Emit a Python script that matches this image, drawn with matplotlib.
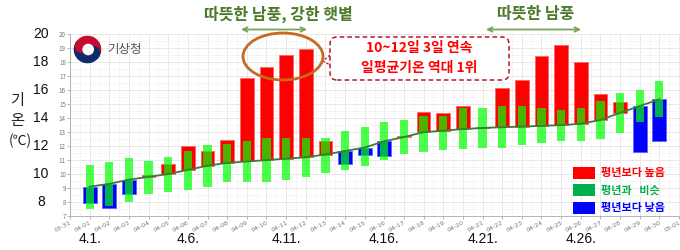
import matplotlib
matplotlib.use("Agg")
import matplotlib.pyplot as plt
import matplotlib.transforms as mtransforms
from matplotlib.patches import Ellipse, FancyBboxPatch, Rectangle, Wedge, Circle
from matplotlib.lines import Line2D
import numpy as np

plt.rcParams['font.family'] = ['Noto Sans CJK KR', 'DejaVu Sans']

# ---------------- data ----------------
days = list(range(1, 31))                      # April 1..30
tick_labels = ["03-31"] + ["04-%02d" % d for d in range(1, 31)] + ["05-01"]
observed = [7.9, 7.6, 8.6, 9.9, 10.7, 12.0, 11.65, 12.45, 16.85, 17.65,
            18.5, 18.95, 12.35, 10.7, 11.4, 11.3, 12.7, 14.45, 14.35, 14.85,
            13.4, 16.15, 16.75, 18.45, 19.25, 18.05, 15.75, 15.15, 11.55, 12.4]
normal_mean = [9.1, 9.3, 9.6, 9.8, 10.0, 10.3, 10.6, 10.8, 10.9, 11.0,
               11.1, 11.2, 11.4, 11.65, 11.9, 12.35, 12.65, 13.0, 13.1, 13.22,
               13.3, 13.35, 13.4, 13.45, 13.5, 13.6, 13.87, 14.38, 14.87, 15.35]
normal_lo = [7.5, 7.7, 8.0, 8.6, 8.7, 8.85, 9.1, 9.4, 9.45, 9.4,
             9.6, 9.8, 10.1, 10.3, 10.6, 11.0, 11.45, 11.6, 11.75, 11.8,
             11.85, 11.9, 12.05, 12.2, 12.4, 12.4, 12.5, 12.95, 13.7, 14.05]
normal_hi = [10.65, 10.85, 11.15, 10.95, 11.25, 11.65, 12.05, 12.15, 12.35, 12.55,
             12.55, 12.55, 12.6, 13.05, 13.35, 13.75, 13.85, 14.15, 14.15, 14.75,
             14.75, 14.85, 14.85, 14.75, 14.55, 14.75, 15.25, 15.8, 16.0, 16.65]
big_y_labels = [8, 10, 12, 14, 16, 18, 20]
bottom_label_days = [1, 6, 11, 16, 21, 26]
bottom_labels = ["4.1.", "4.6.", "4.11.", "4.16.", "4.21.", "4.26."]
legend_labels = ["평년보다 높음", "평년과   비슷", "평년보다 낮음"]

RED = "#ff0000"
BLUE = "#0000ff"
GREEN_LEG = "#00b050"

W, H = 680, 250
fig = plt.figure(figsize=(W / 100, H / 100), dpi=100)
fig.patch.set_facecolor("white")

def fx(px):
    return px / W

def fy(py):
    return 1 - py / H

ax = fig.add_axes([fx(70), fy(216), 1 - fx(70), (216 - 34.3) / H])
ax.set_xlim(0, 31.05)
ax.set_ylim(7, 20)

# grid
ax.set_xticks(range(0, 32))
ax.set_xticks(np.arange(0.5, 31, 1), minor=True)
ax.set_yticks(range(7, 21))
ax.set_yticks(np.arange(7.5, 20, 1), minor=True)
ax.grid(which="major", color="#e4e4e4", lw=0.6)
ax.grid(which="minor", color="#f2f2f2", lw=0.5)
ax.set_axisbelow(True)
ax.tick_params(which="minor", length=0)
ax.tick_params(which="major", length=2, color="#999999", labelsize=4.5,
               labelcolor="#777777", pad=1, width=0.5)
ax.set_xticklabels(tick_labels, rotation=28, ha="right", rotation_mode="anchor",
                   family=["DejaVu Sans"])
for s in ["top", "right"]:
    ax.spines[s].set_visible(False)
for s in ["left", "bottom"]:
    ax.spines[s].set_color("#aaaaaa")
    ax.spines[s].set_linewidth(0.6)

# colored anomaly bars
obs = np.array(observed)
mean = np.array(normal_mean)
bottoms = np.minimum(obs, mean)
heights = np.abs(obs - mean)
cols = [RED if o >= m else BLUE for o, m in zip(obs, mean)]
edges = ["#ff6666" if c == RED else "#6666ff" for c in cols]
ax.bar(days, heights, bottom=bottoms, width=0.7, color=cols,
       edgecolor=edges, linewidth=0.7, zorder=2)

# normal range bars
lo = np.array(normal_lo)
hi = np.array(normal_hi)
ax.bar(days, hi - lo, bottom=lo, width=0.42, color="#00ff00", alpha=0.7,
       linewidth=0, zorder=3)

# normal mean line
ax.plot(days, normal_mean, color="#3c7a3c", lw=1.3, zorder=4)

# big outer y labels
trans_fy = mtransforms.blended_transform_factory(fig.transFigure, ax.transData)
for v in big_y_labels:
    ax.text(fx(41), v, str(v), transform=trans_fy, ha="center", va="center",
            fontsize=10, family=["Liberation Sans", "DejaVu Sans"], color="#111111")

# y axis title
fig.text(fx(17), fy(100), "기", ha="center", va="center", fontsize=11, color="#222222")
fig.text(fx(17), fy(120), "온", ha="center", va="center", fontsize=11, color="#222222")
fig.text(fx(20), fy(141), "(℃)", ha="center", va="center", fontsize=10, color="#222222")

# bottom date labels
trans_xf = mtransforms.blended_transform_factory(ax.transData, fig.transFigure)
for d, lab in zip(bottom_label_days, bottom_labels):
    ax.text(d, fy(239), lab, transform=trans_xf, ha="center", va="center",
            fontsize=10, family=["Liberation Sans", "DejaVu Sans"], color="#111111")

# headline annotations
TITLE_G = "#4a7a2a"
ARROW_G = "#7aa35a"
fig.text(fx(278), fy(14), "따뜻한 남풍, 강한 햇볕", ha="center", va="center",
         fontsize=11.5, fontweight="bold", color=TITLE_G)
fig.text(fx(536), fy(14), "따뜻한 남풍", ha="center", va="center",
         fontsize=11.5, fontweight="bold", color=TITLE_G)
for x0, x1 in [(241, 307), (486, 581)]:
    ax.annotate("", xy=(fx(x1), fy(29.5)), xytext=(fx(x0), fy(29.5)),
                xycoords="figure fraction", textcoords="figure fraction",
                arrowprops=dict(arrowstyle="<->", color=ARROW_G, lw=1.3,
                                shrinkA=0, shrinkB=0, mutation_scale=8))

# orange ellipse
ell = Ellipse((fx(283), fy(56.5)), fx(80), 47 / H, transform=fig.transFigure,
              fill=False, ec="#c46a22", lw=2, zorder=6)
fig.patches.append(ell)

# dashed callout box
box = FancyBboxPatch((3.30, (H - 80) / 100), 1.79, 0.43,
                     boxstyle="round,pad=0,rounding_size=0.07",
                     transform=fig.dpi_scale_trans, fc="white", ec="#c0142a",
                     ls=(0, (3, 2)), lw=1.1, zorder=6)
fig.patches.append(box)
fig.lines.append(Line2D([fx(330), fx(323), fx(330)], [fy(55), fy(61), fy(65)],
                        transform=fig.transFigure, color="#c0142a", lw=0.9,
                        ls=(0, (2, 1.5))))
fig.text(fx(419), fy(48), "10~12일 3일 연속", ha="center", va="center",
         fontsize=10, fontweight="bold", color=RED, zorder=7)
fig.text(fx(419), fy(68), "일평균기온 역대 1위", ha="center", va="center",
         fontsize=10, fontweight="bold", color=RED, zorder=7)

# legend
leg_cols = [RED, GREEN_LEG, BLUE]
leg_rows = [(167.0, 178.5), (184.0, 195.5), (201.5, 213.5)]
for (y0, y1), c, lab in zip(leg_rows, leg_cols, legend_labels):
    fig.patches.append(Rectangle((fx(572.7), fy(y1)), fx(595) - fx(572.7),
                                 (y1 - y0) / H, transform=fig.transFigure,
                                 fc=c, ec="none"))
    fig.text(fx(601), fy((y0 + y1) / 2), lab, ha="left", va="center",
             fontsize=8, fontweight="bold", color=c)

# logo
lax = fig.add_axes([fx(73), fy(64), fx(29), 29 / H])
lax.set_xlim(-1.05, 1.05)
lax.set_ylim(-1.05, 1.05)
lax.set_aspect("equal")
lax.axis("off")
lax.add_patch(Wedge((0, 0), 1, -30, 150, fc="#c60c30", ec="none"))
lax.add_patch(Wedge((0, 0), 1, 150, 330, fc="#0f2a6b", ec="none"))
ang = np.deg2rad(150)
lax.add_patch(Circle((0.5 * np.cos(ang), 0.5 * np.sin(ang)), 0.5, fc="#c60c30", ec="none"))
lax.add_patch(Circle((-0.5 * np.cos(ang), -0.5 * np.sin(ang)), 0.5, fc="#0f2a6b", ec="none"))
lax.add_patch(Circle((0.05, 0.0), 0.42, fc="white", ec="none"))
fig.text(fx(107), fy(50), "기상청", ha="left", va="center", fontsize=9,
         color="#555555")

fig.savefig("out.png", dpi=100)
